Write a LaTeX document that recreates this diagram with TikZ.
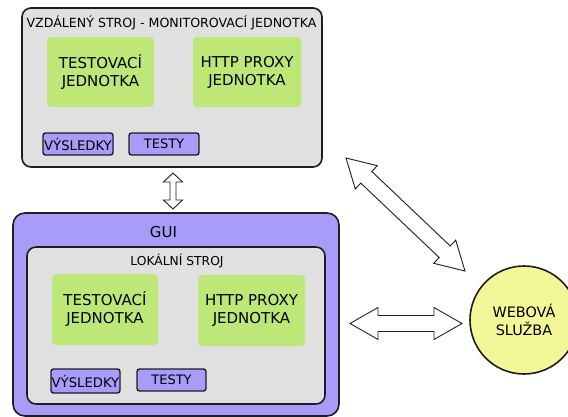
\documentclass[tikz,border=0pt]{standalone}
\usepackage{fontspec}
\setmainfont{DejaVu Sans}
\usetikzlibrary{calc}
\definecolor{boxgray}{RGB}{224,224,224}
\definecolor{unitgreen}{RGB}{189,232,120}
\definecolor{guipurple}{RGB}{168,156,250}
\definecolor{webyellow}{RGB}{242,247,152}
\definecolor{edge}{RGB}{30,30,30}
\newcommand{\fatarrow}[5]{% from, to, half shaft, half head, head length
  \draw[fatarrowstyle]
    (#1)
    -- ($(#1)!#5!(#2)!#4!90:(#2)$)
    -- ($(#1)!#5!(#2)!#3!90:(#2)$)
    -- ($(#2)!#5!(#1)!#3!-90:(#1)$)
    -- ($(#2)!#5!(#1)!#4!-90:(#1)$)
    -- (#2)
    -- ($(#2)!#5!(#1)!#4!90:(#1)$)
    -- ($(#2)!#5!(#1)!#3!90:(#1)$)
    -- ($(#1)!#5!(#2)!#3!-90:(#2)$)
    -- ($(#1)!#5!(#2)!#4!-90:(#2)$)
    -- cycle;}
\begin{document}
\begin{tikzpicture}[x=1pt,y=-1pt,
  machine/.style={draw=edge,line width=1.6pt,fill=boxgray,rounded corners=9pt},
  guibox/.style={draw=edge,line width=1.6pt,fill=guipurple,rounded corners=12pt},
  unit/.style={fill=unitgreen,rounded corners=4pt,align=center,font=\fontsize{15}{18}\selectfont},
  store/.style={draw=edge,line width=1.4pt,fill=guipurple,rounded corners=2.5pt,inner sep=0pt},
  resfont/.style={font=\fontsize{13.2}{15}\selectfont},
  testfont/.style={font=\fontsize{13}{15}\selectfont},
  boxtitle/.style={inner sep=0pt},
  fatarrowstyle/.style={draw=edge,line width=0.9pt,fill=white,line join=miter},
  web/.style={circle,draw=edge,line width=1.6pt,fill=webyellow,minimum size=108pt,align=center,font=\fontsize{14.4}{17.5}\selectfont,inner sep=0pt}]
\useasboundingbox (0,0) rectangle (568,416);
% remote machine
\draw[machine] (22,8) rectangle (322,167);
\node[boxtitle,font=\fontsize{12.6}{14}\selectfont] (rtitle) at (171.5,23) {VZDÁLENÝ STROJ - MONITOROVACÍ JEDNOTKA};
\node[unit,minimum width=107pt,minimum height=70pt] (rtest) at (100.5,72) {TESTOVACÍ\\JEDNOTKA};
\node[unit,minimum width=108pt,minimum height=70pt] (rproxy) at (247,72) {HTTP PROXY\\JEDNOTKA};
\node[store,resfont,minimum width=70pt,minimum height=22pt] (rres) at (78,144) {VÝSLEDKY};
\node[store,testfont,minimum width=70pt,minimum height=22pt] (rtests) at (164,144) {TESTY};
% GUI
\draw[guibox] (13,213) rectangle (339,416);
\node[font=\fontsize{15}{17}\selectfont] (guititle) at (163.5,232) {GUI};
\draw[machine] (27,247) rectangle (325,404);
\node[boxtitle,font=\fontsize{12.3}{14}\selectfont] (ltitle) at (177,261) {LOKÁLNÍ STROJ};
\node[unit,minimum width=106pt,minimum height=71pt] (ltest) at (105,309.5) {TESTOVACÍ\\JEDNOTKA};
\node[unit,minimum width=107pt,minimum height=71pt] (lproxy) at (251.5,310.5) {HTTP PROXY\\JEDNOTKA};
\node[store,resfont,minimum width=69pt,minimum height=24pt] (lres) at (85.5,381) {VÝSLEDKY};
\node[store,testfont,minimum width=69pt,minimum height=22pt] (ltests) at (171.5,380) {TESTY};
% web service
\node[web] (webs) at (524,320) {WEBOVÁ\\SLUŽBA};
% arrow end points
\coordinate (va) at (173,173);
\coordinate (vb) at (173,209);
\coordinate (ha) at (350,323.5);
\coordinate (hb) at (462,323.5);
\coordinate (da) at (346,158);
\coordinate (db) at (465,271);
\fatarrow{va}{vb}{3pt}{9.5pt}{9pt}
\fatarrow{ha}{hb}{8pt}{16pt}{28pt}
\fatarrow{da}{db}{8pt}{16pt}{28pt}
\end{tikzpicture}
\end{document}
